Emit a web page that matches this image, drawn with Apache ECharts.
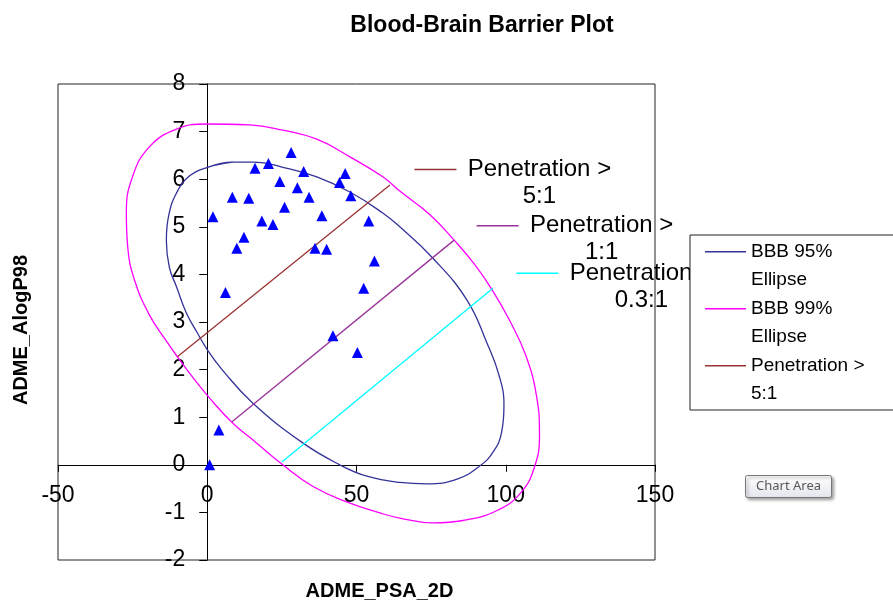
<!DOCTYPE html>
<html>
<head>
<meta charset="utf-8">
<title>Blood-Brain Barrier Plot</title>
<script src="https://cdn.jsdelivr.net/npm/echarts@6/dist/echarts.min.js"></script>
<style>
    html, body { margin: 0; padding: 0; background: #fff; }
    #main { width: 893px; height: 605px; }
</style>
</head>
<body>
<div id="main"></div>
<script>
// values
var xTicks = [-50, 0, 50, 100, 150];
var yTicks = [-2, -1, 0, 1, 2, 3, 4, 5, 6, 7, 8];

var compounds = [
    [1.9, 5.21], [6.1, 3.62], [8.4, 5.62], [9.9, 4.55], [12.3, 4.78], [13.9, 5.60],
    [16.0, 6.23], [18.3, 5.12], [20.5, 6.33], [22.0, 5.05], [24.3, 5.95], [25.9, 5.41],
    [28.1, 6.56], [30.2, 5.82], [32.3, 6.16], [34.1, 5.62], [36.1, 4.55], [38.4, 5.23],
    [40.0, 4.53], [42.1, 2.71], [44.3, 5.93], [46.2, 6.12], [48.1, 5.65], [50.3, 2.36],
    [52.4, 3.71], [54.1, 5.12], [56.0, 4.28], [3.9, 0.73], [0.8, 0.0]
];

var ellipse95 = [
    [0.1, 6.25], [8.5, 6.36], [15.9, 6.36], [25.3, 6.25], [36.7, 6.05], [47.8, 5.73],
    [58.8, 5.29], [64.5, 5.00], [75.6, 4.34], [87.0, 3.46], [93.7, 2.56], [97.9, 1.85],
    [99.4, 1.25], [98.6, 0.68], [95.9, 0.28], [91.4, -0.02], [83.7, -0.30], [73.6, -0.40],
    [64.5, -0.37], [53.5, -0.24], [44.4, 0.00], [32.0, 0.46], [15.2, 1.30], [5.1, 1.99],
    [0.1, 2.41], [-3.3, 2.77], [-7.0, 3.19], [-10.3, 3.74], [-12.7, 4.15], [-13.7, 4.72],
    [-12.9, 5.24], [-10.3, 5.71], [-5.9, 6.07], [0.1, 6.25], [8.5, 6.36]
];

var ellipse99 = [
    [-0.2, 7.16], [14.2, 7.14], [25.3, 7.03], [36.7, 6.84], [47.8, 6.47], [58.8, 6.05],
    [64.5, 5.75], [74.7, 5.25], [82.7, 4.72], [89.7, 4.20], [95.7, 3.65], [101.4, 3.02],
    [106.7, 2.30], [110.3, 1.45], [111.3, 0.62], [109.6, -0.05], [105.0, -0.59], [97.1, -0.96],
    [85.7, -1.17], [75.6, -1.22], [64.5, -1.12], [57.8, -1.01], [46.7, -0.78], [35.3, -0.45],
    [25.3, 0.00], [16.5, 0.46], [8.5, 0.88], [0.8, 1.40], [-4.9, 1.84], [-10.0, 2.27],
    [-13.9, 2.62], [-19.4, 3.15], [-24.2, 3.85], [-26.6, 4.55], [-27.1, 5.29],
    [-25.1, 6.04], [-19.4, 6.68], [-10.3, 7.05], [-0.2, 7.16], [14.2, 7.14]
];

var pen5 = [[-10.0, 2.27], [61.2, 5.88]];
var pen1 = [[8.2, 0.90], [82.7, 4.72]];
var pen03 = [[25.0, 0.06], [95.7, 3.71]];

var FONT = 'Liberation Sans';

// Excel style data label: legend key + wrapped series name
function penLabel(color, ratio, offset) {
    return {
        show: true,
        position: offset,
        fontFamily: FONT,
        lineHeight: 27,
        formatter: '{key|}{gap|}{txt|Penetration >}\n{blank|}{txt|' + ratio + '}',
        rich: {
            key: {width: 42, height: 1.5, lineHeight: 27, backgroundColor: color},
            gap: {width: 8, lineHeight: 27},
            blank: {width: 50, lineHeight: 27},
            txt: {width: 150, align: 'center', fontSize: 24, lineHeight: 27, color: '#000', fontFamily: FONT}
        }
    };
}

function penSeries(name, color, pts, ratio, offset) {
    var data = [];
    for (var i = 0; i < pts.length; i++) {
        data.push({value: pts[i]});
    }
    data[data.length - 1].label = penLabel(color, ratio, offset);
    return {
        name: name,
        type: 'line',
        data: data,
        showSymbol: true,
        symbol: 'circle',
        symbolSize: 1,
        itemStyle: {color: 'transparent', borderWidth: 0},
        lineStyle: {color: color, width: 1.3},
        label: {show: false},
        silent: true,
        z: 3
    };
}

// legend key: thin bar at first text line, invisible dots stretch the box
var keyPath = 'path://M0,0h0.01v0.01h-0.01z M0,13h41v1.5h-41z M0,55.99h0.01v0.01h-0.01z';

var myChart = echarts.init(document.getElementById('main'));

// axes cross at 0,0 inside the plot box (grid 58..655 x 84..560)
var xAxisOffset = -(476 * 2 / 10);
var yAxisOffset = -(597 * 50 / 200);

var option = {
    animation: false,
    backgroundColor: '#fff',
    title: {
        text: 'Blood-Brain Barrier Plot',
        left: 482,
        top: 14,
        padding: 0,
        textAlign: 'center',
        textStyle: {fontFamily: FONT, fontSize: 23, fontWeight: 'bold', color: '#000'}
    },
    legend: {
        orient: 'vertical',
        left: 690,
        top: 235,
        padding: [3, 60, 2, 15],
        itemGap: 1,
        itemWidth: 41,
        itemHeight: 56,
        symbolKeepAspect: false,
        backgroundColor: '#fff',
        borderColor: '#222',
        borderWidth: 1,
        selectedMode: false,
        itemStyle: {borderWidth: 0, opacity: 1},
        textStyle: {fontFamily: FONT, fontSize: 19, lineHeight: 28, color: '#000'},
        data: [
            {name: 'BBB 95% Ellipse', icon: keyPath, itemStyle: {color: '#333399'}},
            {name: 'BBB 99% Ellipse', icon: keyPath, itemStyle: {color: '#ff00ff'}},
            {name: 'Penetration > 5:1', icon: keyPath, itemStyle: {color: '#993333'}}
        ],
        formatter: function (name) {
            if (name.indexOf('Ellipse') > -1) return name.replace(' Ellipse', '\nEllipse');
            return name.replace('> ', '>\n');
        }
    },
    grid: {
        left: 58,
        top: 84,
        right: 238,
        bottom: 45,
        outerBoundsMode: 'none',
        containLabel: false,
        show: true,
        borderColor: '#222',
        borderWidth: 1,
        backgroundColor: 'transparent'
    },
    xAxis: {
        type: 'value',
        min: xTicks[0],
        max: xTicks[xTicks.length - 1],
        interval: 50,
        offset: xAxisOffset,
        name: 'ADME_PSA_2D',
        nameLocation: 'middle',
        nameGap: 117,
        nameTextStyle: {fontFamily: FONT, fontSize: 20, fontWeight: 'bold', color: '#000', padding: [0, 0, 0, 46]},
        axisLine: {onZero: false, lineStyle: {color: '#000', width: 1}},
        axisTick: {show: true, length: 7, lineStyle: {color: '#000'}},
        axisLabel: {fontFamily: FONT, fontSize: 23, color: '#000', margin: 19},
        splitLine: {show: false}
    },
    yAxis: {
        type: 'value',
        min: yTicks[0],
        max: yTicks[yTicks.length - 1],
        interval: 1,
        offset: yAxisOffset,
        name: 'ADME_AlogP98',
        nameLocation: 'middle',
        nameRotate: 90,
        nameGap: 176,
        nameTextStyle: {fontFamily: FONT, fontSize: 20, fontWeight: 'bold', color: '#000', padding: [0, 16, 0, 0]},
        axisLine: {onZero: false, lineStyle: {color: '#000', width: 1}},
        axisTick: {show: true, length: 8, lineStyle: {color: '#000'}},
        axisLabel: {fontFamily: FONT, fontSize: 23, color: '#000', margin: 22},
        splitLine: {show: false}
    },
    series: [
        {
            name: 'BBB 95% Ellipse',
            type: 'line',
            data: ellipse95,
            smooth: 0.45,
            showSymbol: false,
            color: '#333399',
            lineStyle: {color: '#333399', width: 1.3},
            silent: true
        },
        {
            name: 'BBB 99% Ellipse',
            type: 'line',
            data: ellipse99,
            smooth: 0.45,
            showSymbol: false,
            color: '#ff00ff',
            lineStyle: {color: '#ff00ff', width: 1.3},
            silent: true
        },
        penSeries('Penetration > 5:1', '#993333', pen5, '5:1', [25, -28.5]),
        penSeries('Penetration > 1:1', '#993399', pen1, '1:1', [23, -27.5]),
        penSeries('Penetration > 0.3:1', '#00ffff', pen03, '0.3:1', [24, -28]),
        {
            name: 'Compounds',
            type: 'scatter',
            data: compounds,
            symbol: 'triangle',
            symbolSize: 11,
            itemStyle: {color: '#0000ff', opacity: 1},
            z: 5
        }
    ],
    graphic: [
        {
            type: 'group',
            left: 745,
            top: 475,
            children: [
                {
                    type: 'rect',
                    shape: {x: 0, y: 0, width: 86, height: 22, r: 2},
                    style: {
                        fill: new echarts.graphic.LinearGradient(0, 0, 0, 1, [
                            {offset: 0, color: '#ffffff'},
                            {offset: 1, color: '#e4e5ee'}
                        ]),
                        stroke: '#767676',
                        lineWidth: 1,
                        shadowBlur: 3,
                        shadowOffsetX: 2,
                        shadowOffsetY: 2,
                        shadowColor: 'rgba(0,0,0,0.35)'
                    }
                },
                {
                    type: 'text',
                    style: {
                        text: 'Chart Area',
                        x: 43,
                        y: 11,
                        align: 'center',
                        verticalAlign: 'middle',
                        fontFamily: 'Noto Sans',
                        fontSize: 13,
                        fill: '#575757'
                    }
                }
            ]
        }
    ]
};

myChart.setOption(option);
window.onresize = myChart.resize;
</script>
</body>
</html>
